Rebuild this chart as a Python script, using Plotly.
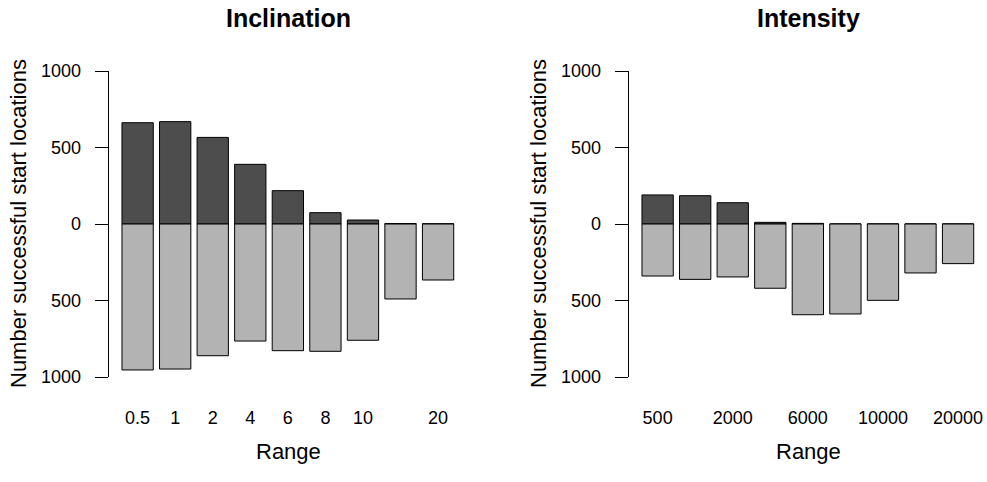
import plotly.graph_objects as go

# ---- data ----
incl_labels = ["0.5", "1", "2", "4", "6", "8", "10", "", "20"]
incl_success = [662, 669, 566, 390, 218, 74, 26, 3, 1]
incl_fail = [954, 948, 861, 765, 828, 832, 760, 490, 366]

int_labels = ["500", "", "2000", "", "6000", "", "10000", "", "20000"]
int_success = [190, 185, 139, 11, 4, 0, 0, 0, 0]
int_fail = [340, 362, 346, 420, 593, 588, 499, 320, 259]

y_ticks = [-1000, -500, 0, 500, 1000]

FONT = "Liberation Sans, Arial, sans-serif"
DARK = "#4d4d4d"
LIGHT = "#b3b3b3"
W, H = 987, 482

fig = go.Figure()

panels = [
    (incl_labels, incl_success, incl_fail, "x", "y"),
    (int_labels, int_success, int_fail, "x2", "y2"),
]
for labels, succ, fail, xa, ya in panels:
    pos = list(range(len(labels)))
    fig.add_trace(go.Bar(x=pos, y=succ, xaxis=xa, yaxis=ya, width=1 / 1.2,
                         marker=dict(color=DARK, line=dict(color="black", width=1)),
                         showlegend=False, hoverinfo="skip"))
    fig.add_trace(go.Bar(x=pos, y=[-v for v in fail], xaxis=xa, yaxis=ya, width=1 / 1.2,
                         marker=dict(color=LIGHT, line=dict(color="black", width=1)),
                         showlegend=False, hoverinfo="skip"))

xcommon = dict(range=[-0.77, len(incl_labels) - 1 + 0.77], showgrid=False, zeroline=False,
               showline=False, ticks="", tickmode="array", automargin=False,
               tickfont=dict(family=FONT, size=18, color="black"), ticklabelstandoff=28,
               fixedrange=True)
ycommon = dict(range=[-1000, 1000], domain=[1 - 377 / H, 1 - 71 / H], showgrid=False,
               zeroline=False, showline=True, linecolor="black", linewidth=1,
               ticks="outside", ticklen=13, tickcolor="black", tickwidth=1, automargin=False,
               tickmode="array", tickvals=y_ticks, ticktext=[str(abs(v)) for v in y_ticks],
               tickfont=dict(family=FONT, size=18, color="black"), ticklabelstandoff=10,
               fixedrange=True)

fig.update_layout(
    width=W, height=H, margin=dict(l=0, r=0, t=0, b=0, autoexpand=False),
    paper_bgcolor="white", plot_bgcolor="white",
    barmode="relative",
    xaxis=dict(xcommon, domain=[108.7 / W, 467 / W], anchor="y",
               tickvals=list(range(len(incl_labels))), ticktext=incl_labels),
    yaxis=dict(ycommon, anchor="x"),
    xaxis2=dict(xcommon, domain=[628.7 / W, 1.0], anchor="y2",
                tickvals=list(range(len(int_labels))), ticktext=int_labels),
    yaxis2=dict(ycommon, anchor="x2"),
)

ann = []
for cx, title, ytx in [(288, "Inclination", 18), (808, "Intensity", 538)]:
    ann.append(dict(x=cx / W, y=1 - 18 / H, xref="paper", yref="paper", text="<b>" + title + "</b>",
                    showarrow=False, xanchor="center", yanchor="middle",
                    font=dict(family=FONT, size=25, color="black")))
    ann.append(dict(x=cx / W, y=1 - 451 / H, xref="paper", yref="paper", text="Range",
                    showarrow=False, xanchor="center", yanchor="middle",
                    font=dict(family=FONT, size=22, color="black")))
    ann.append(dict(x=ytx / W, y=1 - 224 / H, xref="paper", yref="paper",
                    text="Number successful start locations", textangle=-90,
                    showarrow=False, xanchor="center", yanchor="middle",
                    font=dict(family=FONT, size=22, color="black")))
fig.update_layout(annotations=ann)

fig.write_html("out.html", config={"displayModeBar": False, "staticPlot": True},
               post_script="document.body.style.margin='0';document.body.style.overflow='hidden';")
